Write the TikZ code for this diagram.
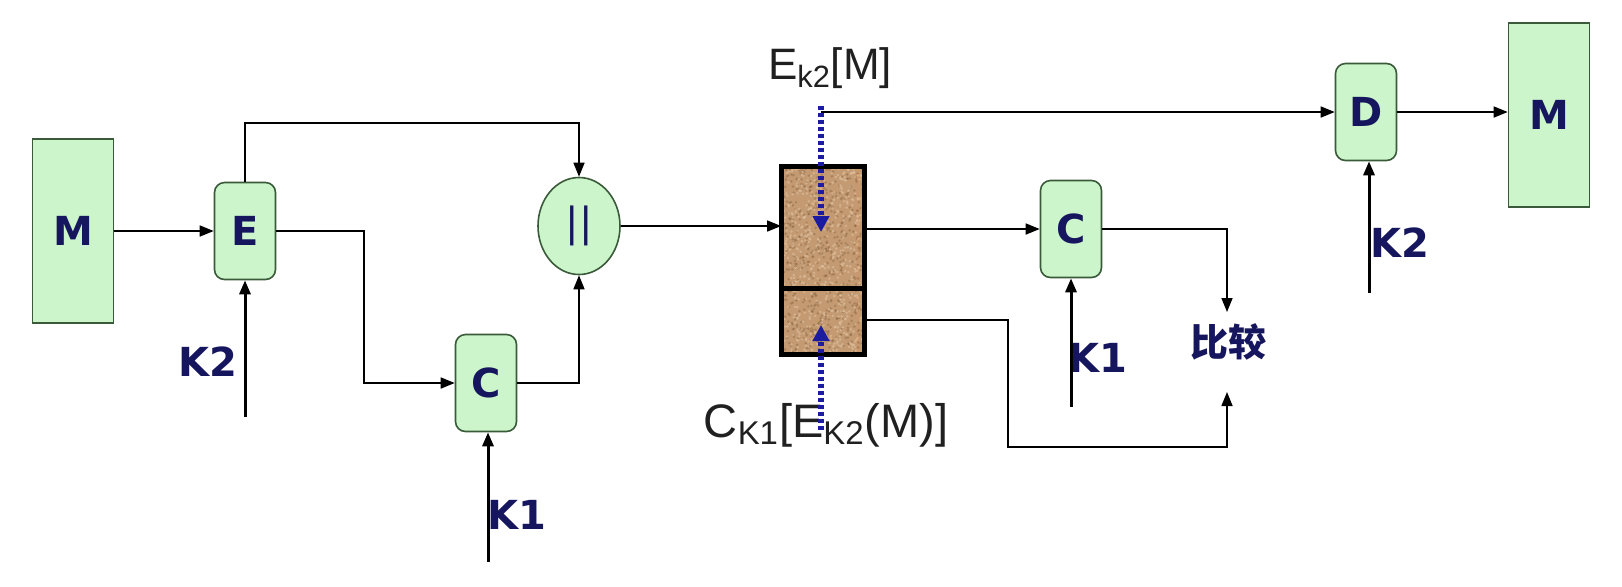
\documentclass[tikz,border=0pt]{standalone}
\usepackage{fontspec}
\setmainfont{DejaVu Sans}
\newfontfamily\labfont{Liberation Sans}
\newfontfamily\cjk{Noto Sans CJK SC}
\usetikzlibrary{arrows.meta,shapes.geometric}
\definecolor{boxfill}{HTML}{CCF5CC}
\definecolor{boxedge}{HTML}{3A5A3A}
\definecolor{navy}{HTML}{16165E}
\definecolor{dotblue}{HTML}{1C1CA0}
\definecolor{brownbase}{HTML}{C39A72}
\definecolor{browndark}{HTML}{8A6440}
\definecolor{brownlight}{HTML}{E2C4A2}
\definecolor{labgray}{HTML}{202020}
\tikzset{
  blk/.style={draw=boxedge, fill=boxfill, line width=0.8pt, rounded corners=5pt,
    minimum width=30.5pt, minimum height=48.5pt, inner sep=0pt,
    font=\bfseries\fontsize{20}{20}\selectfont, text=navy},
  bigblk/.style={draw=boxedge, fill=boxfill, line width=0.8pt,
    minimum width=40.5pt, minimum height=92pt, inner sep=0pt,
    font=\bfseries\fontsize{20}{20}\selectfont, text=navy},
  orblk/.style={ellipse, draw=boxedge, fill=boxfill, line width=0.8pt,
    minimum width=41pt, minimum height=48.5pt, inner sep=0pt,
    font=\fontsize{20}{20}\selectfont, text=navy},
  arr/.style={-{Triangle[length=7pt,width=5.5pt]}, line width=0.8pt},
  keyarr/.style={-{Triangle[length=7pt,width=5.5pt]}, line width=1.5pt},
  keylab/.style={font=\bfseries\fontsize{20}{20}\selectfont, text=navy, inner sep=0pt},
  dotarr/.style={draw=dotblue, line width=2.8pt, dash pattern=on 2.2pt off 1.3pt,
    -{Triangle[length=8pt,width=8pt]}, dotblue},
  formula/.style={font=\labfont\fontsize{22}{22}\selectfont, text=labgray, inner sep=0pt}
}
\begin{document}
\begin{tikzpicture}[x=0.5pt,y=-0.5pt]
\useasboundingbox (0,0) rectangle (1622,586);
% blocks
\node[bigblk] (M1) at (73,231) {M};
\node[blk] (E) at (245,231) {E};
\node[blk] (C1) at (486,383) {C};
\node[orblk] (OR) at (579,226) {||};
\node[blk] (C2) at (1071,229) {C};
\node[blk] (D) at (1366,112) {D};
\node[bigblk] (M2) at (1549,115) {M};
% central storage box
\node[fill=brownbase, minimum width=41.5pt, minimum height=94pt, inner sep=0pt] (box) at (823,260.5) {};
\begin{scope}
  \pgfmathsetseed{7}
  \clip (781,166) rectangle (865,355);
  \foreach \i in {1,...,600}{
    \fill[browndark, opacity=0.45] (781+84*rnd,166+189*rnd) circle (0.7pt);
  }
  \foreach \i in {1,...,600}{
    \fill[brownlight, opacity=0.55] (781+84*rnd,166+189*rnd) circle (0.7pt);
  }
\end{scope}
\draw[line width=2.5pt] (box.south west) rectangle (box.north east);
\draw[line width=2.5pt] (box.west |- 0,288) -- (box.east |- 0,288);
% labels
\node[formula] (ek) at (830,68) {E\textsubscript{k2}[M]};
\node[formula, font=\labfont\fontsize{23.5}{23.5}\selectfont] (ck) at (826,425) {C\textsubscript{K1}[E\textsubscript{K2}(M)]};
\node[font=\cjk\bfseries\fontsize{19}{19}\selectfont, text=navy, inner sep=0pt] (cmp) at (1228,342) {比较};
\node[keylab] (k2l) at (208,362) {K2};
\node[keylab] (k1l) at (517,515) {K1};
\node[keylab] (k1r) at (1098,358) {K1};
\node[keylab] (k2r) at (1400,243) {K2};
% coordinates
\coordinate (tapT) at (821,112);
\coordinate (dotTs) at (821,106);
\coordinate (dotTe) at (821,232);
\coordinate (dotBs) at (821,430);
\coordinate (dotBe) at (821,325);
\coordinate (cmpT) at (1227,312);
\coordinate (cmpB) at (1227,392);
\coordinate (k2a) at (245,417);
\coordinate (k1a) at (488,562);
\coordinate (k1b) at (1071,407);
\coordinate (k2b) at (1369,293);
% connectors
\draw[arr] (M1.east) -- (E.west);
\draw[arr] (E.north) |- (OR.north |- 0,123) -- (OR.north);
\draw[arr] (E.east) -- (364,231) |- (C1.west);
\draw[arr] (C1.east) -| (OR.south);
\draw[arr] (OR.east) -- (box.west |- OR.east);
\draw[arr] (box.east |- C2.west) -- (C2.west);
\draw[arr] (C2.east) -| (cmpT);
\draw[arr] (box.east |- 0,320) -- (1008,320) |- (1227,447) -- (cmpB);
\draw[arr] (tapT) -- (D.west);
\draw[arr] (D.east) -- (M2.west |- D.east);
\draw[keyarr] (k2a) -- (E.south);
\draw[keyarr] (k1a) -- (C1.south -| k1a);
\draw[keyarr] (k1b) -- (C2.south);
\draw[keyarr] (k2b) -- (D.south -| k2b);
% blue dotted arrows
\draw[dotarr] (dotTs) -- (dotTe);
\draw[dotarr] (dotBs) -- (dotBe);
\end{tikzpicture}
\end{document}
